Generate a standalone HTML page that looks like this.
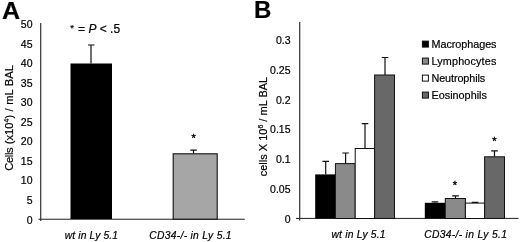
<!DOCTYPE html>
<html><head><meta charset="utf-8">
<style>
html,body{margin:0;padding:0;background:#fff;}
body{width:520px;height:242px;overflow:hidden;}
svg{display:block;will-change:transform;}
text{font-family:"Liberation Sans",sans-serif;fill:#000;stroke:#000;stroke-width:0.2px;}
.t{font-size:10.5px;}
.xl{font-size:10.3px;font-style:italic;}
.lg{font-size:10.8px;}
.pl{font-size:24px;font-weight:bold;}
.st{font-size:11px;stroke:#000;stroke-width:0.35;}
.eb{stroke:#111;stroke-width:1.2;fill:none;}
</style></head><body>
<svg width="520" height="242" viewBox="0 0 520 242">
<rect width="520" height="242" fill="#fff"/>

<text class="pl" x="2" y="18.5" textLength="18.1" lengthAdjust="spacingAndGlyphs">A</text>
<g class="t" text-anchor="end">
<text x="32.50" y="28.05">50</text>
<text x="32.50" y="47.60">45</text>
<text x="32.50" y="67.15">40</text>
<text x="32.50" y="86.70">35</text>
<text x="32.50" y="106.25">30</text>
<text x="32.50" y="125.80">25</text>
<text x="32.50" y="145.35">20</text>
<text x="32.50" y="164.90">15</text>
<text x="32.50" y="184.45">10</text>
<text x="32.50" y="204.00">5</text>
<text x="32.50" y="223.55">0</text>
</g>
<text transform="translate(12.7,170.7) rotate(-90)" font-size="11.13" stroke="none" word-spacing="0.45"><tspan letter-spacing="-0.35">Cells</tspan> (x10<tspan font-size="7" dy="-4">4</tspan><tspan dy="4">) / mL BAL</tspan></text>
<text x="70.3" y="32.5" font-size="12"><tspan font-size="9.5" dy="-1.8">*</tspan><tspan dy="1.8" dx="0.7"> = </tspan><tspan font-style="italic">P</tspan> &lt; .5</text>
<rect x="40.1" y="23" width="1.2" height="198" fill="#333"/>
<rect x="38.5" y="218.7" width="206.3" height="1.1" fill="#333"/>
<rect x="70.5" y="63.5" width="41.5" height="155.5" fill="#000"/>
<rect x="173.2" y="153.8" width="44" height="65.4" fill="#a6a6a6" stroke="#111" stroke-width="1.1"/>
<path class="eb" d="M91 63.5V45M88 45H94.5"/>
<path class="eb" d="M193.5 153.5V150.2M190.3 150.2H196.8"/>
<text class="st" x="193.7" y="141.7" text-anchor="middle">*</text>
<text class="xl" x="64.7" y="239.0" textLength="53.3">wt in Ly 5.1</text>
<text class="xl" x="149.3" y="239.0" textLength="82.3">CD34-/- in Ly 5.1</text>
<text class="pl" x="254" y="18.1">B</text>
<g class="t" text-anchor="end">
<text x="290.50" y="43.60">0.3</text>
<text x="290.50" y="74.10">0.25</text>
<text x="290.50" y="103.50">0.2</text>
<text x="290.50" y="132.90">0.15</text>
<text x="290.50" y="162.60">0.1</text>
<text x="290.50" y="193.40">0.05</text>
<text x="290.50" y="222.60">0</text>
</g>
<text transform="translate(267.3,176.3) rotate(-90)" font-size="11" stroke="none">cells X 10<tspan font-size="7" dy="-4">6</tspan><tspan dy="4"> / mL BAL</tspan></text>
<rect x="299.1" y="22" width="1.2" height="198.5" fill="#333"/>
<rect x="296" y="217.9" width="222.5" height="1.1" fill="#333"/>
<rect x="315.20" y="174.40" width="20.20" height="44.10" fill="#000"/>
<rect x="335.40" y="163.60" width="19.80" height="54.90" fill="#8a8a8a" stroke="#111" stroke-width="1"/>
<rect x="355.20" y="148.50" width="19.40" height="70.00" fill="#fff" stroke="#111" stroke-width="1"/>
<rect x="374.60" y="75.00" width="19.90" height="143.50" fill="#686868" stroke="#111" stroke-width="1"/>
<path class="eb" d="M325.70 174.40V161.30M322.40 161.30H329.00"/>
<path class="eb" d="M345.60 163.60V153.00M342.30 153.00H348.90"/>
<path class="eb" d="M365.00 148.50V123.60M361.70 123.60H368.30"/>
<path class="eb" d="M385.00 75.00V57.50M381.70 57.50H388.30"/>
<rect x="424.80" y="202.80" width="20.50" height="15.70" fill="#000"/>
<rect x="445.30" y="198.50" width="20.10" height="20.00" fill="#8a8a8a" stroke="#111" stroke-width="1"/>
<rect x="465.40" y="203.10" width="19.20" height="15.40" fill="#fff" stroke="#111" stroke-width="1"/>
<rect x="484.60" y="156.80" width="19.90" height="61.70" fill="#686868" stroke="#111" stroke-width="1"/>
<path class="eb" d="M435.00 202.80V201.90M431.70 201.90H438.30"/>
<path class="eb" d="M455.50 198.50V195.90M452.20 195.90H458.80"/>
<path class="eb" d="M475.00 203.10V202.30M471.70 202.30H478.30"/>
<path class="eb" d="M494.50 156.80V150.80M491.20 150.80H497.80"/>
<text class="st" x="454.8" y="188.6" text-anchor="middle">*</text>
<text class="st" x="494.3" y="144.6" text-anchor="middle">*</text>
<text class="xl" x="331.5" y="238.0" textLength="54">wt in Ly 5.1</text>
<text class="xl" x="424.2" y="238.0" textLength="82.7">CD34-/- in Ly 5.1</text>
<rect x="422.4" y="41.1" width="6" height="6" fill="#000" stroke="#111" stroke-width="1"/>
<rect x="422.4" y="58.1" width="6" height="6" fill="#8a8a8a" stroke="#111" stroke-width="1"/>
<rect x="422.4" y="75.1" width="6" height="6" fill="#fff" stroke="#111" stroke-width="1"/>
<rect x="422.4" y="92.1" width="6" height="6" fill="#686868" stroke="#111" stroke-width="1"/>
<g class="lg">
<text x="431.5" y="48" textLength="65">Macrophages</text>
<text x="431.5" y="64.9" textLength="64.8">Lymphocytes</text>
<text x="431.5" y="82" textLength="53.7">Neutrophils</text>
<text x="431.5" y="99" textLength="55.4">Eosinophils</text>
</g>
</svg>
</body></html>
